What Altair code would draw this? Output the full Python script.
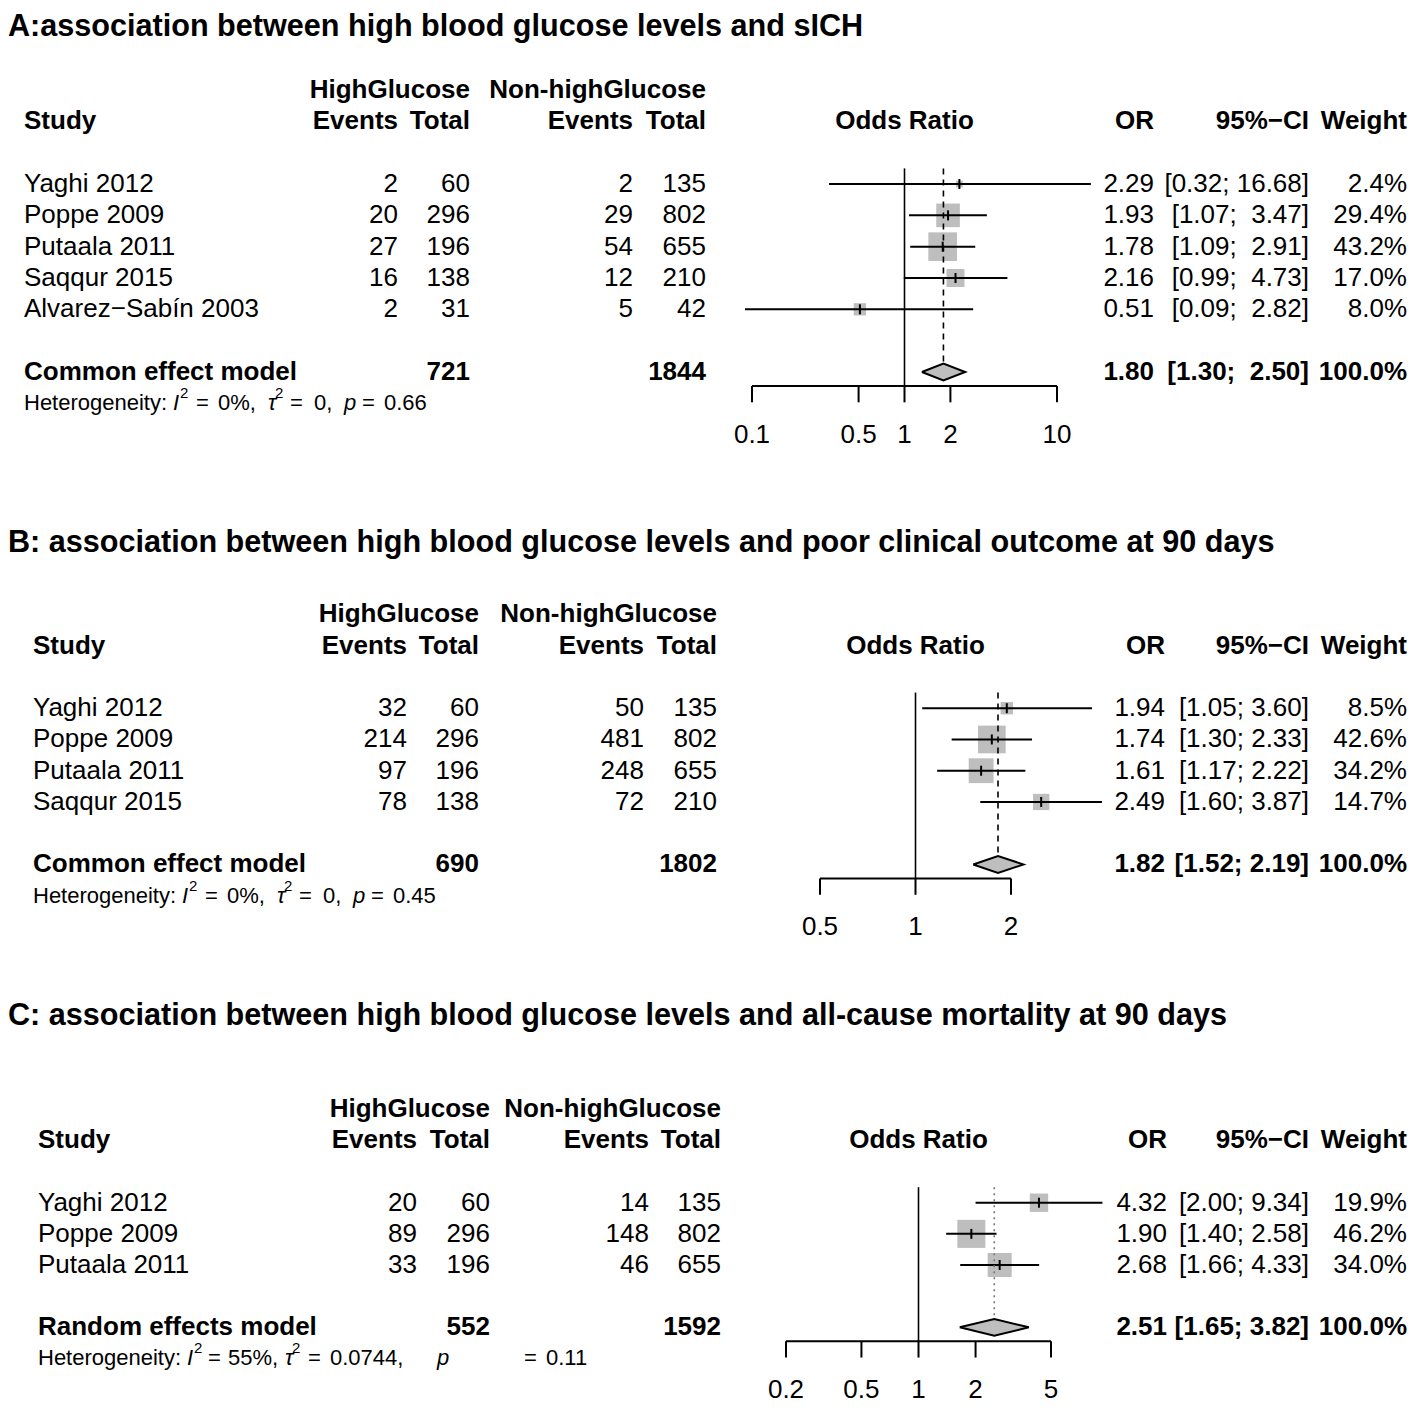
import altair as alt
import pandas as pd

# ---------------- data ----------------
A_title = "A:association between high blood glucose levels and sICH"
A_study = ["Yaghi 2012", "Poppe 2009", "Putaala 2011", "Saqqur 2015", "Alvarez\u2212Sab\u00edn 2003"]
A_ev_e = [2, 20, 27, 16, 2]
A_n_e = [60, 296, 196, 138, 31]
A_ev_c = [2, 29, 54, 12, 5]
A_n_c = [135, 802, 655, 210, 42]
A_or = [2.29, 1.93, 1.78, 2.16, 0.51]
A_lo = [0.32, 1.07, 1.09, 0.99, 0.09]
A_hi = [16.68, 3.47, 2.91, 4.73, 2.82]
A_w = [2.4, 29.4, 43.2, 17.0, 8.0]
A_model = "Common effect model"
A_pooled = [1.80, 1.30, 2.50]
A_totals = [721, 1844]
A_het = ["0%,", "0,", "0.66"]
A_ticks = [0.1, 0.5, 1, 2, 10]
A_tick_labels = ["0.1", "0.5", "1", "2", "10"]

B_title = "B: association between high blood glucose levels and poor clinical outcome at 90 days"
B_study = ["Yaghi 2012", "Poppe 2009", "Putaala 2011", "Saqqur 2015"]
B_ev_e = [32, 214, 97, 78]
B_n_e = [60, 296, 196, 138]
B_ev_c = [50, 481, 248, 72]
B_n_c = [135, 802, 655, 210]
B_or = [1.94, 1.74, 1.61, 2.49]
B_lo = [1.05, 1.30, 1.17, 1.60]
B_hi = [3.60, 2.33, 2.22, 3.87]
B_w = [8.5, 42.6, 34.2, 14.7]
B_model = "Common effect model"
B_pooled = [1.82, 1.52, 2.19]
B_totals = [690, 1802]
B_het = ["0%,", "0,", "0.45"]
B_ticks = [0.5, 1, 2]
B_tick_labels = ["0.5", "1", "2"]

C_title = "C: association between high blood glucose levels and all-cause mortality at 90 days"
C_study = ["Yaghi 2012", "Poppe 2009", "Putaala 2011"]
C_ev_e = [20, 89, 33]
C_n_e = [60, 296, 196]
C_ev_c = [14, 148, 46]
C_n_c = [135, 802, 655]
C_or = [4.32, 1.90, 2.68]
C_lo = [2.00, 1.40, 1.66]
C_hi = [9.34, 2.58, 4.33]
C_w = [19.9, 46.2, 34.0]
C_model = "Random effects model"
C_pooled = [2.51, 1.65, 3.82]
C_totals = [552, 1592]
C_het = ["55%,", "0.0744,", "0.11"]
C_ticks = [0.2, 0.5, 1, 2, 5]
C_tick_labels = ["0.2", "0.5", "1", "2", "5"]

# ---------------- style / layout ----------------
FONT = "Liberation Sans, Arial, Helvetica, sans-serif"
FS = 26
HFS = 22
TFS = 30.6
SQ = "#BEBEBE"
NB = "\u00a0"


def vy(p):
    # reference page y -> chart y
    return (p - 6) * 0.989


def hx(offsets, start):
    return [start + o - 8 for o in offsets]


HET_OFF_AB = [0, 149, 156, 172, 194, 244, 251, 266, 290, 320, 338, 360]
HET_OFF_C = [0, 149, 156, 170, 190, 247, 254, 270, 292, 399, 486, 508]

LAYOUT = {
    "A": dict(y0=vy(184), ysum=vy(374), title_y=19, xr=[744, 1049], k=19.0,
              summary_dash=[6, 5], summary_color="black",
              cols=dict(study=16, ev_e=390, n_e=462, ev_c=625, n_c=698, orx=1146, ci=1301, w=1399),
              het=hx(HET_OFF_AB, 24)),
    "B": dict(y0=vy(714), ysum=vy(872), title_y=vy(547), xr=[812, 1003], k=18.0,
              summary_dash=[6, 5], summary_color="black",
              cols=dict(study=25, ev_e=399, n_e=471, ev_c=636, n_c=709, orx=1157, ci=1301, w=1399),
              het=hx(HET_OFF_AB, 33)),
    "C": dict(y0=vy(1214), ysum=vy(1340), title_y=vy(1025), xr=[778, 1043], k=17.0,
              summary_dash=[2, 4], summary_color="#777777",
              cols=dict(study=30, ev_e=409, n_e=482, ev_c=641, n_c=713, orx=1159, ci=1301, w=1399),
              het=hx(HET_OFF_C, 38)),
}


def tlayer(df, x_px, align, ys, bold=False, size=FS, dy=0, italic=False):
    mk = dict(align=align, baseline="middle", font=FONT, fontSize=size, color="black",
              fontWeight="bold" if bold else "normal")
    if italic:
        mk["fontStyle"] = "italic"
    if dy:
        mk["dy"] = dy
    return alt.Chart(df).mark_text(**mk).encode(
        x=alt.value(x_px),
        y=alt.Y("row:Q", scale=ys, axis=None),
        text=alt.Text("label:N"),
    )


def one(row, label):
    return pd.DataFrame({"row": [row], "label": [label]})


def fmt_ci(lo, hi, wl, wh):
    a = f"{lo:.2f}"
    b = f"{hi:.2f}"
    return "[" + NB * (wl - len(a)) + a + ";" + NB * (1 + wh - len(b)) + b + "]"


def panel(title, study, ev_e, n_e, ev_c, n_c, orv, lo, hi, w, model, pooled, totals, het,
          ticks, tick_labels, L):
    n = len(study)
    srow = n + 1
    step = (L["ysum"] - L["y0"]) / srow
    ys = alt.Scale(domain=[0, srow], range=[L["y0"], L["ysum"]], zero=False, nice=False)
    xs = alt.Scale(type="log", domain=[ticks[0], ticks[-1]], range=L["xr"], nice=False)
    c = L["cols"]
    layers = []

    # title
    layers.append(tlayer(one((L["title_y"] - L["y0"]) / step, title), 0, "left", ys, bold=True, size=TFS))

    # headers
    layers.append(tlayer(one(-3, "HighGlucose"), c["n_e"], "right", ys, bold=True))
    layers.append(tlayer(one(-3, "Non-highGlucose"), c["n_c"], "right", ys, bold=True))
    for lab, key, al in [("Study", "study", "left"), ("Events", "ev_e", "right"), ("Total", "n_e", "right"),
                         ("Events", "ev_c", "right"), ("Total", "n_c", "right"), ("OR", "orx", "right"),
                         ("95%\u2212CI", "ci", "right"), ("Weight", "w", "right")]:
        layers.append(tlayer(one(-2, lab), c[key], al, ys, bold=True))
    layers.append(
        alt.Chart(pd.DataFrame({"row": [-2], "label": ["Odds Ratio"], "xv": [1]})).mark_text(
            align="center", baseline="middle", font=FONT, fontSize=FS, fontWeight="bold", color="black"
        ).encode(x=alt.X("xv:Q", scale=xs, axis=None), y=alt.Y("row:Q", scale=ys, axis=None),
                 text="label:N")
    )

    # table columns
    wl = max(len(f"{v:.2f}") for v in list(lo) + [pooled[1]])
    wh = max(len(f"{v:.2f}") for v in list(hi) + [pooled[2]])
    rows = list(range(n))
    cols = [
        ("study", "left", list(study), model),
        ("ev_e", "right", [str(v) for v in ev_e], None),
        ("n_e", "right", [str(v) for v in n_e], str(totals[0])),
        ("ev_c", "right", [str(v) for v in ev_c], None),
        ("n_c", "right", [str(v) for v in n_c], str(totals[1])),
        ("orx", "right", [f"{v:.2f}" for v in orv], f"{pooled[0]:.2f}"),
        ("ci", "right", [fmt_ci(a, b, wl, wh) for a, b in zip(lo, hi)], fmt_ci(pooled[1], pooled[2], wl, wh)),
        ("w", "right", [f"{v:.1f}%" for v in w], "100.0%"),
    ]
    for key, al, vals, summ in cols:
        layers.append(tlayer(pd.DataFrame({"row": rows, "label": vals}), c[key], al, ys))
        if summ is not None:
            layers.append(tlayer(one(srow, summ), c[key], al, ys, bold=True))

    # heterogeneity line
    hrow = srow + 1
    segs = [("Heterogeneity:", "n"), ("I", "i"), ("2", "s"), ("=", "n"), (het[0], "n"),
            ("\u03c4", "i"), ("2", "s"), ("=", "n"), (het[1], "n"),
            ("p", "i"), ("=", "n"), (het[2], "n")]
    for (s, kind), x in zip(segs, L["het"]):
        if kind == "s":
            layers.append(tlayer(one(hrow, s), x, "left", ys, size=15, dy=-10))
        else:
            layers.append(tlayer(one(hrow, s), x, "left", ys, size=HFS, italic=(kind == "i")))

    # forest marks
    sd = pd.DataFrame({"row": rows, "or": orv, "lo": lo, "hi": hi, "w": w})
    sd["t0"] = sd["row"] - 0.16
    sd["t1"] = sd["row"] + 0.16
    X = lambda f: alt.X(f"{f}:Q", scale=xs, axis=None)
    Y = lambda f: alt.Y(f"{f}:Q", scale=ys, axis=None)

    layers.append(alt.Chart(sd).mark_square(color=SQ, opacity=1).encode(
        x=X("or"), y=Y("row"),
        size=alt.Size("w:Q", scale=alt.Scale(domain=[0, 100], range=[0, 100 * L["k"]], zero=True), legend=None)))
    layers.append(alt.Chart(sd).mark_rule(color="black", strokeWidth=2).encode(
        x=X("lo"), x2="hi", y=Y("row")))
    layers.append(alt.Chart(sd).mark_rule(color="black", strokeWidth=2).encode(
        x=X("or"), y=Y("t0"), y2="t1"))

    axis_row = srow + 0.45
    tick_row = srow + 0.97
    lab_row = srow + 2
    half = 0.27

    # reference line at OR = 1
    layers.append(alt.Chart(pd.DataFrame({"x": [1], "a": [-0.5], "b": [axis_row]})).mark_rule(
        color="black", strokeWidth=1.6).encode(x=X("x"), y=Y("a"), y2="b"))
    # pooled-estimate line
    layers.append(alt.Chart(pd.DataFrame({"x": [pooled[0]], "a": [-0.5], "b": [srow - half]})).mark_rule(
        color=L["summary_color"], strokeWidth=1.6, strokeDash=L["summary_dash"]).encode(
        x=X("x"), y=Y("a"), y2="b"))
    # diamond (closed filled path through lower CI, estimate, upper CI)
    dd = pd.DataFrame({"x": [pooled[1], pooled[0], pooled[2], pooled[0], pooled[1]],
                       "y": [srow, srow - half, srow, srow + half, srow],
                       "o": [0, 1, 2, 3, 4]})
    layers.append(alt.Chart(dd).mark_line(fill=SQ, stroke="black", strokeWidth=2, interpolate="linear").encode(
        x=X("x"), y=Y("y"), order="o:Q"))

    # axis
    layers.append(alt.Chart(pd.DataFrame({"a": [ticks[0]], "b": [ticks[-1]], "r": [axis_row]})).mark_rule(
        color="black", strokeWidth=2).encode(x=X("a"), x2="b", y=Y("r")))
    td = pd.DataFrame({"x": ticks, "a": [axis_row] * len(ticks), "b": [tick_row] * len(ticks),
                       "row": [lab_row] * len(ticks), "label": tick_labels})
    layers.append(alt.Chart(td).mark_rule(color="black", strokeWidth=2).encode(x=X("x"), y=Y("a"), y2="b"))
    layers.append(alt.Chart(td).mark_text(align="center", baseline="middle", font=FONT, fontSize=FS,
                                          color="black").encode(x=X("x"), y=Y("row"), text="label:N"))

    return alt.layer(*layers)


pA = panel(A_title, A_study, A_ev_e, A_n_e, A_ev_c, A_n_c, A_or, A_lo, A_hi, A_w, A_model, A_pooled,
           A_totals, A_het, A_ticks, A_tick_labels, LAYOUT["A"])
pB = panel(B_title, B_study, B_ev_e, B_n_e, B_ev_c, B_n_c, B_or, B_lo, B_hi, B_w, B_model, B_pooled,
           B_totals, B_het, B_ticks, B_tick_labels, LAYOUT["B"])
pC = panel(C_title, C_study, C_ev_e, C_n_e, C_ev_c, C_n_c, C_or, C_lo, C_hi, C_w, C_model, C_pooled,
           C_totals, C_het, C_ticks, C_tick_labels, LAYOUT["C"])

chart = alt.layer(pA, pB, pC).resolve_scale(
    x="independent", y="independent", size="independent"
).properties(
    width=1400, height=1396,
    padding=0,
    autosize=alt.AutoSizeParams(type="none"),
    background="white",
).configure_view(strokeWidth=0)

chart.save("out.html", embed_options={"renderer": "svg", "actions": False})
